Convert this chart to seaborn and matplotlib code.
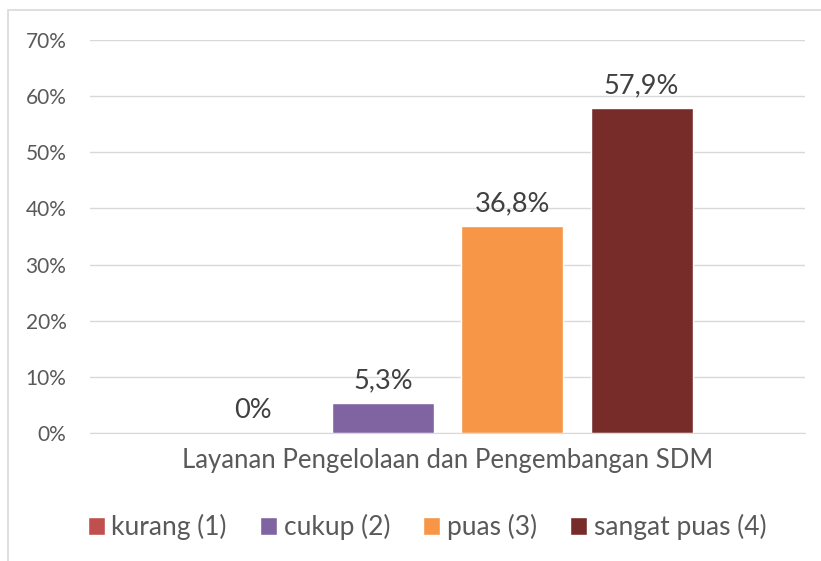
import pandas as pd
import matplotlib.pyplot as plt
import seaborn as sns
from matplotlib.patches import Rectangle

# data
kategori = ['Layanan Pengelolaan dan Pengembangan SDM']
tingkat = ['kurang (1)', 'cukup (2)', 'puas (3)', 'sangat puas (4)']
persen = [0.0, 5.3, 36.8, 57.9]
label_txt = ['0%', '5,3%', '36,8%', '57,9%']
warna = ['#C0504D', '#8064A2', '#F79646', '#772C2A']

df = pd.DataFrame({'kategori': kategori * len(tingkat), 'tingkat': tingkat, 'persen': persen})

sns.set_style('white')
plt.rcParams['font.family'] = ['Lato', 'DejaVu Sans']

fig = plt.figure(figsize=(8.21, 5.61), dpi=100)
ax = fig.add_axes([90 / 821, 1 - 433 / 561, 715 / 821, 393 / 561])

# chart frame (cropped at right and bottom)
fig.patches.append(Rectangle((8 / 821, -0.1), 1.2, 1 - 10 / 561 + 0.1, transform=fig.transFigure,
                             fill=False, edgecolor='#D9D9D9', linewidth=1.2, zorder=0))

sns.barplot(data=df, x='kategori', y='persen', hue='tingkat', palette=warna,
            width=0.724, gap=0.21, saturation=1, ax=ax, legend=True)

for cont, lbl in zip(ax.containers, label_txt):
    ax.bar_label(cont, labels=[lbl], padding=7, fontsize=19.5, color='#404040')

ax.set_ylim(0, 70)
ax.set_yticks(range(0, 71, 10))
ax.set_yticklabels([f'{v}%' for v in range(0, 71, 10)])
ax.yaxis.grid(True, color='#D9D9D9', linewidth=1)
ax.set_axisbelow(True)
for s in ax.spines.values():
    s.set_visible(False)
ax.spines['bottom'].set_visible(True)
ax.spines['bottom'].set_color('#D9D9D9')
ax.tick_params(axis='y', length=0, labelsize=15, labelcolor='#595959', pad=17)
ax.tick_params(axis='x', length=0, labelsize=18.5, labelcolor='#595959', pad=11)
ax.set_xlabel('')
ax.set_ylabel('')

handles, labels = ax.get_legend_handles_labels()
ax.legend_.remove()
fig.legend(handles, labels, loc='center', bbox_to_anchor=(427 / 821, 1 - 527 / 561), ncol=4,
           frameon=False, fontsize=19, labelcolor='#595959', handlelength=0.65, handleheight=0.65,
           handletextpad=0.25, columnspacing=1.25)

fig.savefig('out.png', dpi=100)
